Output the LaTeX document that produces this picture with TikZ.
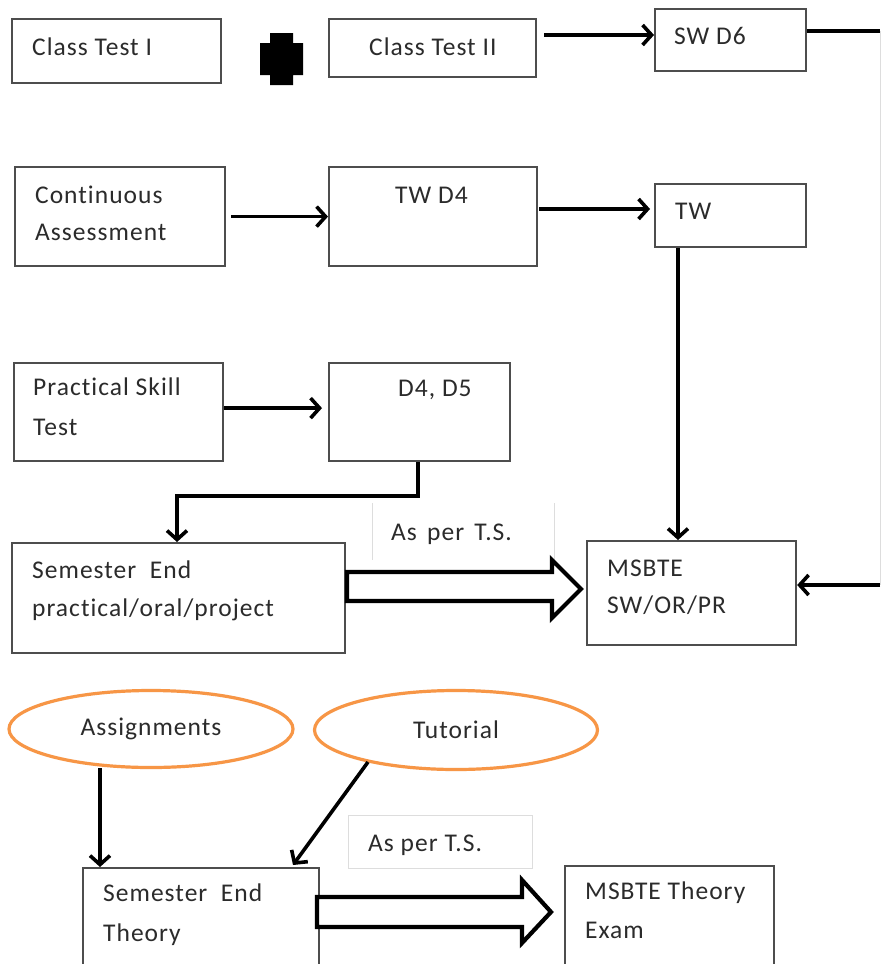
\documentclass[tikz,border=0pt]{standalone}
\usepackage{fontspec}
\setmainfont{Carlito}[LetterSpace=4,Ligatures=NoCommon]
\usetikzlibrary{arrows.meta,shapes.geometric,calc}
\definecolor{boxgray}{HTML}{4D4D4D}
\definecolor{orng}{HTML}{F79646}
\definecolor{txtc}{HTML}{2B2B2B}
\definecolor{faint}{HTML}{DDDDDD}
\begin{document}
\begin{tikzpicture}[x=1pt,y=-1pt,
  box/.style={draw=boxgray,line width=2.2pt,anchor=north west,inner sep=0pt,fill=white},
  txt/.style={anchor=base west,inner sep=0pt,text=txtc,font=\fontsize{25.5}{30}\selectfont},
  oval/.style={ellipse,draw=orng,line width=3.2pt,inner sep=0pt,text=txtc,font=\fontsize{25.5}{30}\selectfont},
  arr/.style={line width=3.6pt,-{Straight Barb[length=9pt,width=20pt]}},
  plain/.style={line width=3.6pt},
  hollow/.style={draw=black,line width=4.2pt,fill=white,line join=miter}
]
\fill[white] (0,0) rectangle (882,964);
\useasboundingbox (0,0) rectangle (882,964);
\clip (0,0) rectangle (882,964);

% Row 1
\node[box,minimum width=209,minimum height=64] (ct1) at (11,18) {};
\node[txt] (ct1t) at (32,55) {Class Test I};
\fill (270,33) -- (293,33) -- (293,43) -- (303,43) -- (303,75) -- (293,75) -- (293,85) -- (270,85) -- (270,75) -- (260,75) -- (260,43) -- (270,43) -- cycle;
\node[box,minimum width=207,minimum height=58] (ct2) at (328,18) {};
\node[txt] (ct2t) at (369,55) {Class Test II};
\node[box,minimum width=151,minimum height=62] (sw) at (654,8) {};
\node[txt] (swt) at (674,44) {SW D6};

% Row 2
\node[box,minimum width=210,minimum height=99] (ca) at (14,166) {};
\node[txt] (cat1) at (35,203) {Continuous};
\node[txt] (cat2) at (35,240) {Assessment};
\node[box,minimum width=208,minimum height=99] (twd) at (328,166) {};
\node[txt] (twdt) at (395,203) {TW D4};
\node[box,minimum width=151,minimum height=63] (tw) at (654,183) {};
\node[txt] (twt) at (675,219) {TW};

% Row 3
\node[box,minimum width=209,minimum height=98] (pst) at (13,362) {};
\node[txt] (pstt1) at (33,395) {Practical Skill};
\node[txt] (pstt2) at (33,435) {Test};
\node[box,minimum width=181,minimum height=98] (dd) at (328,362) {};
\node[txt] (ddt) at (398,396) {D4, D5};

% As per T.S. 1
\node[inner sep=0pt,minimum width=182,minimum height=57,anchor=north west] (tsa) at (372,503) {};
\draw[faint,line width=1pt] (tsa.north west) -- (tsa.south west);
\draw[faint,line width=1pt] (tsa.north east) -- (tsa.south east);
\node[txt] (tsat) at (391,540) {As\hspace{0.4em}per\hspace{0.4em}T.S.};

\node[box,minimum width=333,minimum height=110] (se) at (11,542) {};
\node[txt] (set1) at (32,578) {Semester~~End};
\node[txt] (set2) at (32,616) {practical/oral/project};
\node[box,minimum width=209,minimum height=104] (ms) at (586,540) {};
\node[txt] (mst1) at (607,576) {MSBTE};
\node[txt] (mst2) at (607,613) {SW/OR/PR};

% Row 4
\node[oval,minimum width=284,minimum height=77] (asg) at (151,729) {Assignments};
\node[oval,minimum width=283,minimum height=79] (tut) at (456,730) {Tutorial};
\node[draw=faint,line width=1pt,inner sep=0pt,minimum width=184,minimum height=53,anchor=north west] (tsb) at (348,815) {};
\node[txt] (tsbt) at (368,851) {As per T.S.};
\node[box,minimum width=236,minimum height=120] (set) at (82,867) {};
\node[txt] (settt1) at (103,901) {Semester~~End};
\node[txt] (settt2) at (103,941) {Theory};
\node[box,minimum width=209,minimum height=120] (mt) at (564,865) {};
\node[txt] (mtt1) at (585,899) {MSBTE Theory};
\node[txt] (mtt2) at (585,938) {Exam};

% connectors
\coordinate (ctA) at ($(ct2.east)+(7,0)$);
\draw[arr] (ctA |- 0,35) -- (sw.west |- 0,35);
\coordinate (rt1) at (880,31);
\coordinate (rt2) at (880,585);
\draw[plain] (sw.east |- rt1) -- (rt1);
\draw[faint,line width=1pt] (rt1) -- (rt2);
\draw[arr] (rt2) -- (rt2 -| ms.east);

\draw[arr] ($(ca.east)+(5,0)$) -- (twd.west);
\coordinate (twdA) at ($(twd.east)+(1,0)$);
\coordinate (twA) at ($(tw.west)+(-4,0)$);
\draw[arr] (twdA |- 0,209) -- (twA |- 0,209);
\coordinate (twb) at ($(tw.south west)+(24,0)$);
\draw[arr] (twb) -- (twb |- ms.north);

\coordinate (pstA) at ($(pst.east)+(0,-4)$);
\coordinate (ddA) at ($(pstA -| dd.west)+(-6,0)$);
\draw[arr] (pstA) -- (ddA);
\coordinate (dd1) at ($(dd.south west)+(90,0)$);
\coordinate (se1) at ($(se.north west)+(166,0)$);
\draw[arr,line join=miter] (dd1) -- (dd1 |- 0,496) -- (se1 |- 0,496) -- (se1);

\coordinate (asg1) at (100,768);
\draw[arr] (asg1) -- (asg1 |- set.north);
\coordinate (tut1) at (368,762);
\draw[arr] (tut1) -- ($(set.north west)+(211,-2)$);

% hollow block arrows
\draw[hollow] (347,572) -- (552,572) -- (552,560) -- (581,589) -- (552,618) -- (552,601) -- (347,601) -- cycle;
\draw[hollow] (317,897) -- (522,897) -- (522,880) -- (551,912) -- (522,943) -- (522,927) -- (317,927) -- cycle;
\end{tikzpicture}
\end{document}
